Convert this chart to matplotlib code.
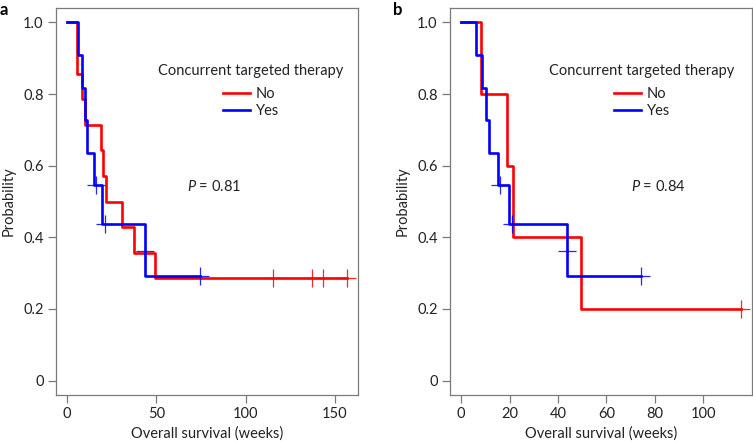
import matplotlib
matplotlib.use("Agg")
import matplotlib.pyplot as plt

# panel a: step times (weeks) and survival after each step, censor marks
a_no_times = [5.4, 8.2, 10.1, 19.0, 20.0, 21.5, 30.6, 37.7, 49.4]
a_no_surv = [0.857, 0.786, 0.714, 0.643, 0.571, 0.500, 0.429, 0.357, 0.286]
a_no_cens_t = [115.4, 137.1, 143.3, 156.7]
a_no_cens_s = [0.286, 0.286, 0.286, 0.286]

a_yes_times = [6.0, 8.2, 10.0, 11.2, 15.3, 19.4, 43.6, 43.6]
a_yes_surv = [0.909, 0.818, 0.727, 0.636, 0.545, 0.436, 0.363, 0.291]
a_yes_cens_t = [16.0, 21.0, 43.6, 74.4]
a_yes_cens_s = [0.545, 0.436, 0.363, 0.291]

# panel b
b_no_times = [8.2, 19.1, 21.3, 49.4]
b_no_surv = [0.8, 0.6, 0.4, 0.2]
b_no_cens_t = [115.5]
b_no_cens_s = [0.2]

b_yes_times = [6.0, 8.5, 10.2, 11.4, 15.4, 19.9, 43.5, 43.5]
b_yes_surv = [0.909, 0.818, 0.727, 0.636, 0.545, 0.436, 0.363, 0.291]
b_yes_cens_t = [16.0, 21.0, 43.5, 74.4]
b_yes_cens_s = [0.545, 0.436, 0.363, 0.291]

y_ticks = [0, 0.2, 0.4, 0.6, 0.8, 1.0]
y_tick_labels = ["0", "0.2", "0.4", "0.6", "0.8", "1.0"]

plt.rcParams["font.family"] = ["Lato", "DejaVu Sans"]
plt.rcParams["mathtext.fontset"] = "custom"
plt.rcParams["mathtext.it"] = "Lato:italic"
plt.rcParams["mathtext.rm"] = "Lato"

TEXT = "#222222"
GRAY = "#7a7a7a"
FS = 10.5


def km_curve(ax, times, surv, cens_t, cens_s, color, label):
    end = max([times[-1]] + cens_t)
    xs = [0] + times + [end]
    ys = [1.0] + surv + [surv[-1]]
    ax.step(xs, ys, where="post", color=color, lw=1.9, label=label)
    ax.plot(cens_t, cens_s, "+", color=color, ms=13.5, mew=0.9, alpha=0.85)


def style_axes(ax, xlim, xticks, pval, legend_x, pval_x):
    ax.set_xlim(*xlim)
    ax.set_ylim(-0.04, 1.04)
    ax.set_xticks(xticks)
    ax.set_xticklabels([str(t) for t in xticks])
    ax.set_yticks(y_ticks)
    ax.set_yticklabels(y_tick_labels)
    for s in ax.spines.values():
        s.set_color(GRAY)
        s.set_linewidth(0.9)
    ax.tick_params(colors=GRAY, labelcolor=TEXT, labelsize=FS,
                   length=6, width=0.9, pad=3)
    ax.set_ylabel("Probability", fontsize=FS, color=TEXT)
    ax.yaxis.set_label_coords(-0.135, 0.5)
    ax.set_xlabel("Overall survival (weeks)", fontsize=FS, color=TEXT)
    ax.xaxis.set_label_coords(0.5, -0.082)
    # legend title drawn separately so its gap to the entries can be set
    ax.text(legend_x, 0.837, "Concurrent targeted therapy", transform=ax.transAxes,
            fontsize=FS, color=TEXT, ha="center", va="center")
    leg = ax.legend(loc="upper center", bbox_to_anchor=(legend_x, 0.815),
                    frameon=False, fontsize=FS, handlelength=1.85,
                    handletextpad=0.4, labelspacing=0.22, borderpad=0)
    for t in leg.get_texts():
        t.set_color(TEXT)
    ax.text(pval_x, 0.54, r"$\it{P}$ = " + pval, transform=ax.transAxes,
            fontsize=FS, color=TEXT, va="center", ha="left")


fig = plt.figure(figsize=(7.53, 4.42), dpi=100)
ax_a = fig.add_axes([56 / 753, 1 - 395 / 442, 302 / 753, 387 / 442])
ax_b = fig.add_axes([450 / 753, 1 - 395 / 442, 302 / 753, 387 / 442])

km_curve(ax_a, a_no_times, a_no_surv, a_no_cens_t, a_no_cens_s, "#ff0000", "No")
km_curve(ax_a, a_yes_times, a_yes_surv, a_yes_cens_t, a_yes_cens_s, "#0000ff", "Yes")
style_axes(ax_a, (-6.27, 162.97), [0, 50, 100, 150], "0.81", 0.646, 0.433)

km_curve(ax_b, b_no_times, b_no_surv, b_no_cens_t, b_no_cens_s, "#ff0000", "No")
km_curve(ax_b, b_yes_times, b_yes_surv, b_yes_cens_t, b_yes_cens_s, "#0000ff", "Yes")
style_axes(ax_b, (-4.62, 120.12), [0, 20, 40, 60, 80, 100], "0.84", 0.635, 0.598)

fig.text(0.0, 0.995, "a", fontsize=12, fontweight="bold", va="top", ha="left")
fig.text(393 / 753, 0.995, "b", fontsize=12, fontweight="bold", va="top", ha="left")

fig.savefig("out.png", dpi=100)
